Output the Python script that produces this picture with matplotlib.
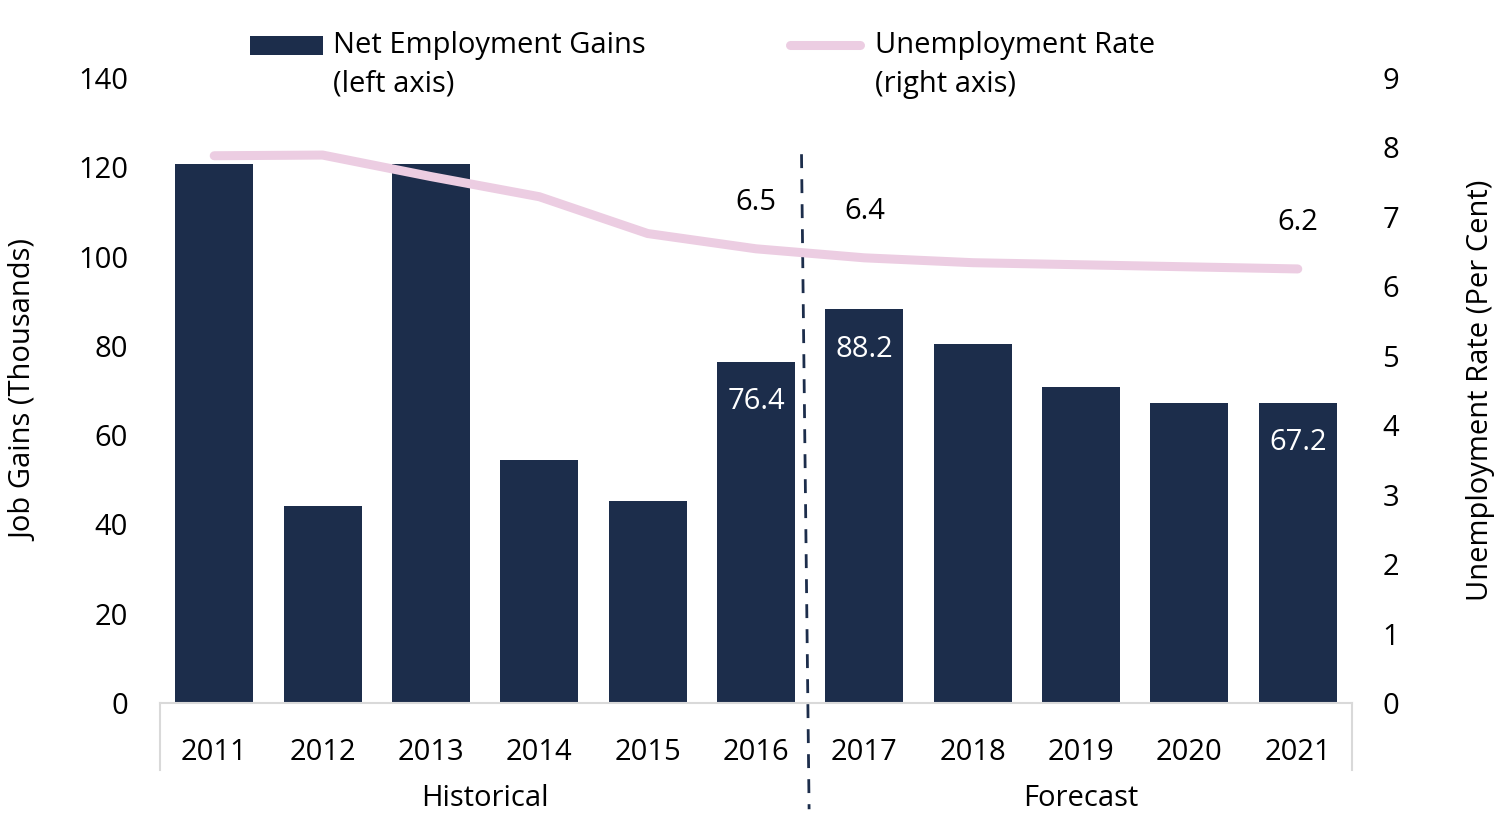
import matplotlib
matplotlib.use("Agg")
import matplotlib.pyplot as plt
import numpy as np
from matplotlib.lines import Line2D
from matplotlib.patches import Rectangle

plt.rcParams['font.family'] = ['Open Sans', 'DejaVu Sans']

years = ["2011", "2012", "2013", "2014", "2015", "2016", "2017", "2018", "2019", "2020", "2021"]
job_gains = [120.7, 44.1, 120.7, 54.4, 45.3, 76.4, 88.2, 80.4, 70.8, 67.3, 67.2]
unemployment = [7.88, 7.89, 7.58, 7.29, 6.76, 6.54, 6.41, 6.34, 6.31, 6.28, 6.25]
bar_labels = {5: "76.4", 6: "88.2", 10: "67.2"}
line_labels = {5: "6.5", 6: "6.4", 10: "6.2"}
groups = [("Historical", 0, 5), ("Forecast", 6, 10)]
legend_labels = ["Net Employment Gains\n(left axis)", "Unemployment Rate\n(right axis)"]

bar_color = "#1C2D4B"
line_color = "#ECCDE2"
fs = 21

fig = plt.figure(figsize=(15, 8.25), dpi=100)
ax = fig.add_axes([0.1067, 0.1479, 0.7946, 0.7576])
ax2 = ax.twinx()

x = np.arange(len(years))
ax.bar(x, job_gains, width=0.72, color=bar_color, zorder=2)
ax2.plot(x, unemployment, color=line_color, lw=6.5, solid_capstyle='round', solid_joinstyle='round', zorder=3)

ax.set_xlim(-0.5, len(years) - 0.5)
ax.set_ylim(0, 140)
ax2.set_ylim(0, 9)
ax.set_yticks(np.arange(0, 141, 20))
ax2.set_yticks(np.arange(0, 10, 1))
ax.set_xticks(x)
ax.set_xticklabels(years)
ax.tick_params(axis='both', length=0, labelsize=fs)
ax.tick_params(axis='y', pad=23)
ax.tick_params(axis='x', pad=25)
ax2.tick_params(axis='y', length=0, labelsize=fs, pad=22)

for a in (ax, ax2):
    for s in ("top", "left", "right"):
        a.spines[s].set_visible(False)
ax2.spines["bottom"].set_visible(False)
ax.spines["bottom"].set_color("#D9D9D9")
ax.spines["bottom"].set_linewidth(1.5)

ax.set_ylabel("Job Gains (Thousands)", fontsize=fs, labelpad=28)
ax2.set_ylabel("Unemployment Rate (Per Cent)", fontsize=fs, labelpad=48)

for i, t in bar_labels.items():
    ax.annotate(t, (x[i], job_gains[i]), xytext=(0, -40), textcoords="offset pixels",
                ha="center", va="center", color="white", fontsize=fs)
for i, t in line_labels.items():
    ax2.annotate(t, (x[i], unemployment[i]), xytext=(0, 46), textcoords="offset pixels",
                 ha="center", va="center", color="black", fontsize=fs)

trans = ax.get_xaxis_transform()
for xv in (-0.5, len(years) - 0.5):
    ax.add_line(Line2D([xv, xv], [0, -0.107], transform=trans, color="#D9D9D9", lw=1.5, clip_on=False))
for name, a0, a1 in groups:
    ax.text((a0 + a1) / 2, -0.153, name, transform=trans, ha="center", va="center", fontsize=fs)

ax.add_line(Line2D([5.42, 5.49], [0.878, -0.17], transform=trans, color=bar_color, lw=2,
                   linestyle=(0, (5, 4)), clip_on=False, zorder=4))

# manual legend (figure pixel fractions)
W, H = 1500, 825
fig.add_artist(Rectangle((250 / W, 1 - 55 / H), 73 / W, 19 / H, transform=fig.transFigure,
                         facecolor=bar_color, edgecolor="none"))
fig.add_artist(Line2D([790 / W, 860 / W], [1 - 45 / H, 1 - 45 / H], transform=fig.transFigure,
                      color=line_color, lw=6.5, solid_capstyle='round'))
fig.text(333 / W, 1 - 31 / H, legend_labels[0], fontsize=fs, va="top", ha="left", linespacing=1.45)
fig.text(875 / W, 1 - 31 / H, legend_labels[1], fontsize=fs, va="top", ha="left", linespacing=1.45)

fig.savefig("out.png", dpi=100)
